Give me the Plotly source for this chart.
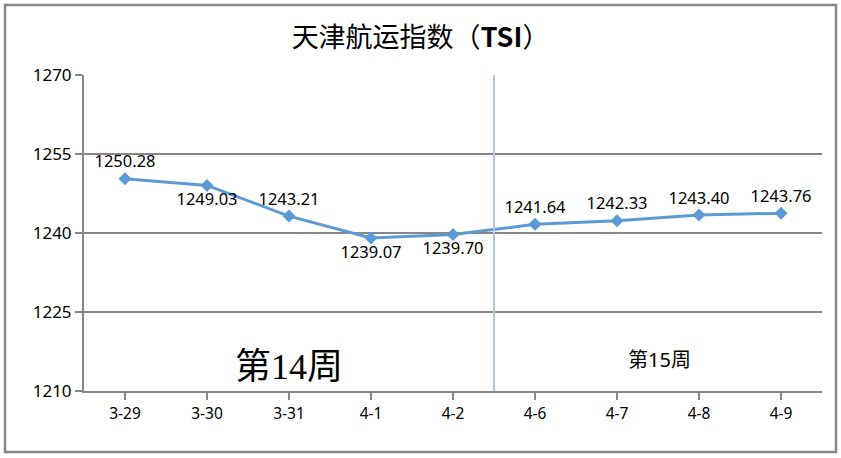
import plotly.graph_objects as go

categories = ["3-29", "3-30", "3-31", "4-1", "4-2", "4-6", "4-7", "4-8", "4-9"]
values = [1250.28, 1249.03, 1243.21, 1239.07, 1239.70, 1241.64, 1242.33, 1243.40, 1243.76]
label_pos = ["top center", "bottom center", "top center", "bottom center", "bottom center",
             "top center", "top center", "top center", "top center"]
y_ticks = [1210, 1225, 1240, 1255, 1270]

W, H = 841, 458
L, R, T, B = 84, 19, 75, 67
pw, ph = W - L - R, H - T - B

def px(x):
    return (x - L) / pw

def py(y):
    return (H - B - y) / ph

fig = go.Figure()
fig.add_trace(go.Scatter(
    x=list(range(len(categories))), y=values,
    mode="lines+markers+text",
    line=dict(color="#5B9BD5", width=3),
    marker=dict(symbol="diamond", size=10, color="#5B9BD5"),
    text=[f"{v:.2f}" for v in values],
    textposition=label_pos,
    textfont=dict(family="Noto Sans, Liberation Sans", size=16.5, color="#000000"),
    cliponaxis=False,
    showlegend=False,
))

fig.update_layout(
    width=W, height=H,
    margin=dict(l=L, r=R, t=T, b=B),
    paper_bgcolor="white", plot_bgcolor="white",
    title=dict(text="天津航运指数（<b>TSI</b>）", x=0.5, xanchor="center",
               y=1 - 38 / H, yanchor="middle",
               font=dict(family="Noto Sans CJK SC", size=27, color="#000000")),
    xaxis=dict(
        tickmode="array", tickvals=list(range(len(categories))), ticktext=categories,
        range=[-0.5, len(categories) - 0.5],
        showgrid=False, showline=True, linecolor="#878787", linewidth=2,
        ticks="outside", ticklen=7, tickcolor="#878787", tickwidth=2,
        tickfont=dict(family="Noto Sans, Liberation Sans", size=15.5, color="#000000"),
        zeroline=False, tickson="boundaries",
    ),
    yaxis=dict(
        range=[1210, 1270], tickvals=y_ticks,
        showgrid=True, gridcolor="#878787", gridwidth=2,
        showline=True, linecolor="#878787", linewidth=2,
        ticks="outside", ticklen=7, tickcolor="#878787", tickwidth=2,
        tickfont=dict(family="Noto Sans, Liberation Sans", size=17, color="#000000"),
        zeroline=False,
    ),
    shapes=[
        dict(type="line", xref="x", yref="paper", x0=4.5, x1=4.5, y0=0, y1=1,
             line=dict(color="#A9C8E8", width=2)),
        dict(type="rect", xref="paper", yref="paper", x0=px(5), x1=px(836), y0=py(452), y1=py(5),
             line=dict(color="#878787", width=2.5), fillcolor="rgba(0,0,0,0)", layer="below"),
    ],
    annotations=[
        dict(text="第14周", xref="x", yref="y", x=2.0, y=1214.6, showarrow=False,
             font=dict(family="Liberation Serif, Noto Sans CJK SC", size=36, color="#000000")),
        dict(text="第15周", xref="x", yref="y", x=6.52, y=1215.9, showarrow=False,
             font=dict(family="Noto Sans, Noto Sans CJK SC", size=20, color="#000000")),
    ],
)

fig.write_html("out.html", config={"displayModeBar": False},
               post_script="document.body.style.margin='0';")
